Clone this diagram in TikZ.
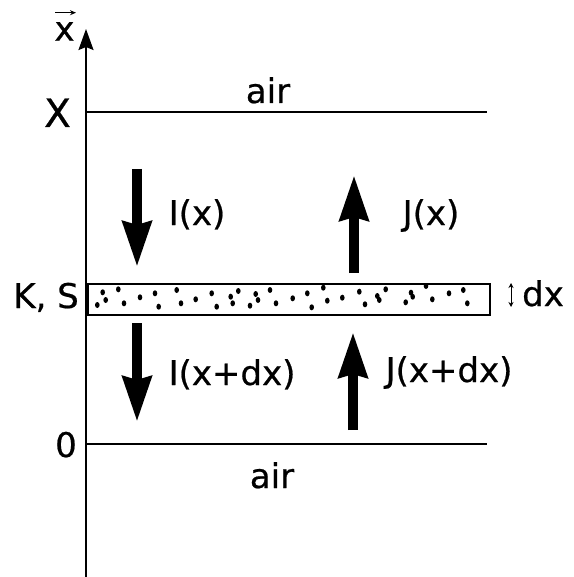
\documentclass[tikz,border=0pt]{standalone}
\usepackage{fontspec}
\setmainfont{DejaVu Sans}
\usetikzlibrary{arrows.meta}
\begin{document}
\begin{tikzpicture}[x=1pt,y=-1pt,
  lbl/.style={font=\fontsize{34}{36}\selectfont\addfontfeatures{FakeBold=0.6}, inner sep=0pt, anchor=base},
  flux/.style={line width=10pt, -{Stealth[length=45pt,width=28pt,inset=3pt]}},
  hline/.style={line width=1.8pt},
  smallarr/.style={line width=1pt, -{Stealth[length=6pt,width=5pt]}},
  dbl/.style={line width=1pt, {Stealth[length=5pt,width=5pt]}-{Stealth[length=5pt,width=5pt]}}
]
\useasboundingbox (0,0) rectangle (573,577);

% axis
\coordinate (axb) at (86,577);
\coordinate (axt) at (86,29);
\draw[line width=2pt, -{Stealth[length=21pt,width=15pt,inset=3pt]}] (axb) -- (axt);

% vector x label
\node[lbl] (xlab) at (64.5,40.7) {x};
\coordinate (va) at (55,12.7);
\coordinate (vb) at (76,12.7);
\draw[smallarr] (va) -- (vb);

% interfaces
\coordinate (xl) at (86,112);
\coordinate (xr) at (487,112);
\draw[hline] (xl) -- (xr);
\coordinate (ol) at (86,444);
\coordinate (or) at (487,444);
\draw[hline] (ol) -- (or);

\node[lbl, font=\fontsize{39}{40}\selectfont\addfontfeatures{FakeBold=0.6}] (Xlab) at (57.5,127) {X};
\node[lbl] (zlab) at (66,457) {0};
\node[lbl] (airtop) at (268,103) {air};
\node[lbl] (airbot) at (272,488) {air};

% slab
\node[draw, line width=1.5pt, minimum width=402pt, minimum height=31pt,
      inner sep=0pt, anchor=north west] (slab) at (87,283) {};
\foreach \px/\py in {97.3/305,102.7/292.3,105.7/300,118.3/289.3,124/303.3,140/297.3,
  155/293.3,158.7/306.7,176.7/290,181/303.3,195.7/299.3,211.7/293.3,216.7/306.7,
  230.7/296.7,232.7/303.3,238.3/291,250/305.7,255.7/294,258/300,270/290,276/303.3,
  292.7/298.3,307.3/293.3,311.7/307.3,323.3/287.7,327.3/300.7,342.3/297.7,359.3/291.7,
  365/304.3,377.3/296,379.3/300,385.7/289.3,405.7/302.3,411/292.7,412.7/296.7,
  426/286,432.3/299.3,449/293.3,463.3/290,467.3/303.3}
  \fill (\px,\py) ellipse (2.3pt and 3pt);

\node[lbl, anchor=base east] (KS) at (79,308) {K, S};
\coordinate (dxa) at (511,283);
\coordinate (dxb) at (511,307);
\draw[dbl] (dxa) -- (dxb);
\node[lbl] (dx) at (543,306) {dx};

% flux arrows
\coordinate (i1a) at (137,169);
\coordinate (i1b) at (137,267);
\draw[flux] (i1a) -- (i1b);
\coordinate (j1a) at (354,273);
\coordinate (j1b) at (354,175);
\draw[flux] (j1a) -- (j1b);
\coordinate (i2a) at (137,323);
\coordinate (i2b) at (137,422);
\draw[flux] (i2a) -- (i2b);
\coordinate (j2a) at (353,430);
\coordinate (j2b) at (353,332);
\draw[flux] (j2a) -- (j2b);

\node[lbl] (Ix) at (197,225) {I(x)};
\node[lbl] (Jx) at (431,225) {J(x)};
\node[lbl] (Ixdx) at (232,385) {I(x+dx)};
\node[lbl] (Jxdx) at (449,382) {J(x+dx)};
\end{tikzpicture}
\end{document}
